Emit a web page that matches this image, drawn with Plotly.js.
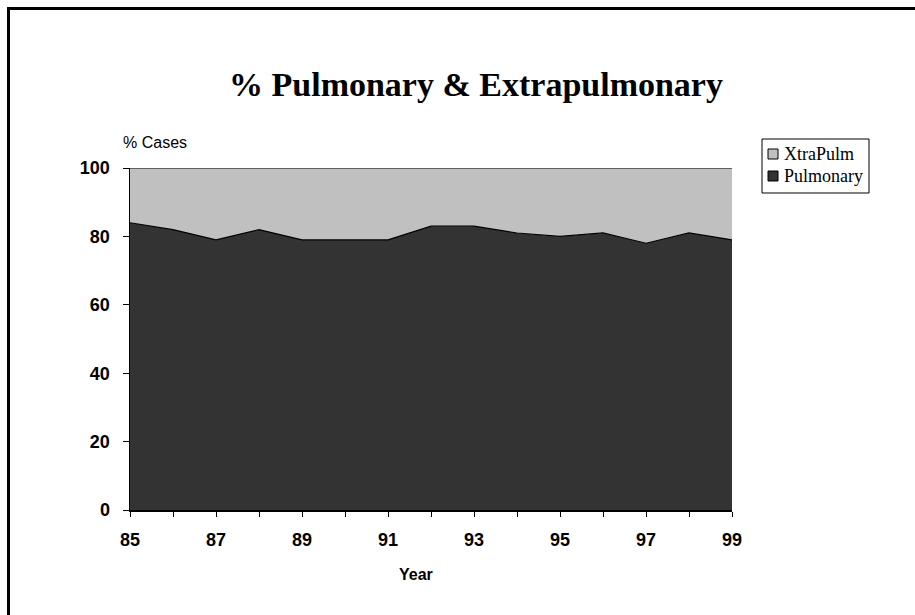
<!DOCTYPE html>
<html>
<head>
<meta charset="utf-8">
<script src="https://cdn.plot.ly/plotly-3.0.1.min.js"></script>
<style>
html,body{margin:0;padding:0;background:#fff;}
#chart{width:915px;height:615px;}
</style>
</head>
<body>
<div id="chart"></div>
<script>
const years = [85,86,87,88,89,90,91,92,93,94,95,96,97,98,99];
const pulmonary = [84,82,79,82,79,79,79,83,83,81,80,81,78,81,79];
const xtraPulm = [16,18,21,18,21,21,21,17,17,19,20,19,22,19,21];
const xTickVals = [85,86,87,88,89,90,91,92,93,94,95,96,97,98,99];
const xTickText = ["85","","87","","89","","91","","93","","95","","97","","99"];
const yTickVals = [0,20,40,60,80,100];
const seriesNames = ["Pulmonary", "XtraPulm"];
const seriesColors = ["#333333", "#c0c0c0"];

const traces = [
  {
    x: years, y: pulmonary, name: seriesNames[0], type: "scatter", mode: "lines",
    stackgroup: "one", fillcolor: seriesColors[0], showlegend: false,
    line: {color: "#000000", width: 1.2}
  },
  {
    x: years, y: xtraPulm, name: seriesNames[1], type: "scatter", mode: "lines",
    stackgroup: "one", fillcolor: seriesColors[1], showlegend: false,
    line: {color: "#000000", width: 1.2}
  }
];

// pixel -> paper helpers (plot area: x 130..732, y 168..510)
const px = v => (v - 130) / 602;
const py = v => (510 - v) / 342;

// manual legend (top entry = XtraPulm)
const legendEntries = [
  {name: seriesNames[1], color: seriesColors[1], sq: [149, 159], ty: 154},
  {name: seriesNames[0], color: seriesColors[0], sq: [171, 181], ty: 176}
];

const shapes = [
  {type: "line", xref: "paper", yref: "paper",
   x0: px(8.5), x1: px(8.5), y0: py(620), y1: py(8.5),
   line: {color: "#000", width: 3}},
  {type: "line", xref: "paper", yref: "paper",
   x0: px(7), x1: px(920), y0: py(8.5), y1: py(8.5),
   line: {color: "#000", width: 3}},
  {type: "rect", xref: "paper", yref: "paper",
   x0: px(762), x1: px(869), y0: py(193), y1: py(139),
   line: {color: "#000", width: 1}, fillcolor: "#fff"}
];
const annotations = [
  {text: "% Cases", xref: "paper", yref: "paper",
   x: px(155), y: py(143), xanchor: "center", yanchor: "middle",
   showarrow: false,
   font: {family: "Liberation Sans, Arial, sans-serif", size: 16, color: "#000"}},
  {text: "<b>Year</b>", xref: "paper", yref: "paper",
   x: px(416), y: py(574), xanchor: "center", yanchor: "middle",
   showarrow: false,
   font: {family: "Liberation Sans, Arial, sans-serif", size: 16, color: "#000"}}
];
legendEntries.forEach(e => {
  shapes.push({type: "rect", xref: "paper", yref: "paper",
    x0: px(768), x1: px(778), y0: py(e.sq[1]), y1: py(e.sq[0]),
    line: {color: "#000", width: 1}, fillcolor: e.color});
  annotations.push({text: e.name, xref: "paper", yref: "paper",
    x: px(782), y: py(e.ty), xanchor: "left", yanchor: "middle", showarrow: false,
    font: {family: "Liberation Serif, Times New Roman, serif", size: 18, color: "#000"}});
});

const layout = {
  width: 915, height: 615,
  margin: {l: 130, r: 183, t: 168, b: 105},
  paper_bgcolor: "#ffffff",
  plot_bgcolor: "#ffffff",
  showlegend: false,
  title: {
    text: "<b>% Pulmonary &amp; Extrapulmonary</b>",
    font: {family: "Liberation Serif, Times New Roman, serif", size: 34, color: "#000"},
    x: 476/915, xref: "container", xanchor: "center",
    y: 1 - 84/615, yref: "container", yanchor: "middle"
  },
  xaxis: {
    range: [85, 99], tickmode: "array", tickvals: xTickVals, ticktext: xTickText,
    ticks: "outside", ticklen: 5, tickcolor: "#000", tickwidth: 1,
    showline: true, linecolor: "#000", linewidth: 1.5,
    showgrid: false, zeroline: false,
    tickfont: {family: "Liberation Sans, Arial, sans-serif", size: 18, color: "#000", weight: "bold"},
    ticklabelstandoff: 8
  },
  yaxis: {
    range: [0, 100], tickmode: "array", tickvals: yTickVals,
    ticks: "outside", ticklen: 6, tickcolor: "#000", tickwidth: 1,
    showline: true, linecolor: "#000", linewidth: 1.5,
    showgrid: false, zeroline: false,
    tickfont: {family: "Liberation Sans, Arial, sans-serif", size: 18, color: "#000", weight: "bold"},
    ticklabelstandoff: 9
  },
  annotations: annotations,
  shapes: shapes
};

Plotly.newPlot("chart", traces, layout, {displayModeBar: false, staticPlot: true});
</script>
</body>
</html>
